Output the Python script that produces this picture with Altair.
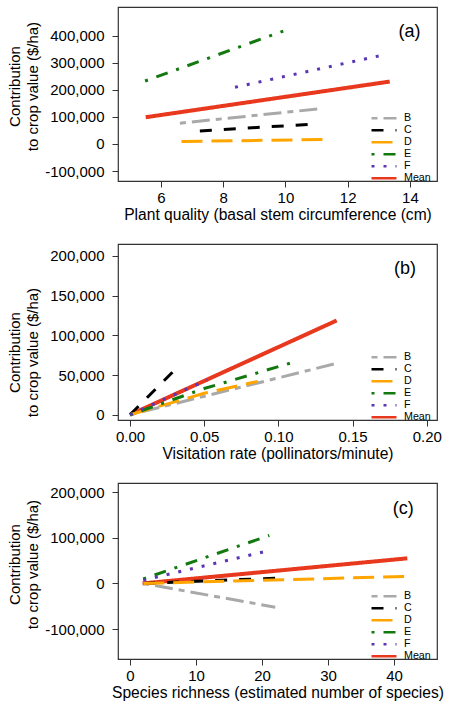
import altair as alt
import pandas as pd

FONT = "Liberation Sans"

SERIES = ["B", "C", "D", "E", "F", "Mean"]
COLORS = ["#a9a9a9", "#000000", "#ffa500", "#12790f", "#5b36b4", "#e8381d"]
DASH_LINE = [[6, 6, 18, 6], [12, 12], [21, 9], [3, 9, 12, 9], [3, 9], [1, 0]]

# ---------- panel (a): plant quality ----------
A_X = {
    "B": [6.61, 11.16], "C": [7.25, 10.80], "D": [6.66, 11.30],
    "E": [5.49, 9.93], "F": [8.38, 13.25], "Mean": [5.51, 13.35],
}
A_Y = {
    "B": [77000, 131000], "C": [48000, 73000], "D": [9000, 17000],
    "E": [233000, 418000], "F": [210000, 332000], "Mean": [99000, 231000],
}
A_XDOM = [4.62, 14.87]
A_YDOM = [-137000, 507000]
A_XTICKS = [6, 8, 10, 12, 14]
A_YTICKS = [-100000, 0, 100000, 200000, 300000, 400000]
A_XTITLE = "Plant quality (basal stem circumference (cm)"

# ---------- panel (b): visitation rate ----------
B_X = {
    "B": [0, 0.139], "C": [0, 0.031], "D": [0, 0.05, 0.086],
    "E": [0, 0.05, 0.108], "F": [0, 0.052], "Mean": [0, 0.1393],
}
B_Y = {
    "B": [0, 64600], "C": [0, 58000], "D": [0, 27000, 42000],
    "E": [0, 33000, 65000], "F": [0, 44000], "Mean": [0, 118700],
}
B_XDOM = [-0.0081, 0.2069]
B_YDOM = [-6600, 215000]
B_XTICKS = [0, 0.05, 0.10, 0.15, 0.20]
B_YTICKS = [0, 50000, 100000, 150000, 200000]
B_XTITLE = "Visitation rate (pollinators/minute)"

# ---------- panel (c): species richness ----------
C_X = {
    "B": [2, 22.0], "C": [2, 22.1], "D": [2, 42],
    "E": [2, 21.1], "F": [2, 21.1], "Mean": [1.9, 42],
}
C_Y = {
    "B": [0, -52000], "C": [0, 11600], "D": [0, 15400],
    "E": [10000, 105000], "F": [7000, 72000], "Mean": [0, 55000],
}
C_XDOM = [-1.82, 46.5]
C_YDOM = [-165500, 220000]
C_XTICKS = [0, 10, 20, 30, 40]
C_YTICKS = [-100000, 0, 100000, 200000]
C_XTITLE = "Species richness (estimated number of species)"

LABELS = ["(a)", "(b)", "(c)"]
LABEL_X = [13.99, 0.1853, 41.4]
LABEL_Y = [415000, 184000, 164000]

Y_TITLE = ["Contribution", "to crop value ($/ha)"]


def to_frame(xs, ys):
    rows = []
    for s in ["Mean"] + SERIES[:-1]:
        for x, y in zip(xs[s], ys[s]):
            rows.append({"series": s, "x": x, "y": y})
    return pd.DataFrame(rows)


def panel(xs, ys, xdom, ydom, xticks, yticks, xfmt, xtitle, h, ty, lab, lx, ly):
    df = to_frame(xs, ys)
    x_enc = alt.X(
        "x:Q",
        scale=alt.Scale(domain=xdom, nice=False, zero=False),
        axis=alt.Axis(
            values=xticks, format=xfmt, title=xtitle, titleY=38,
            titleBaseline="alphabetic", labelPadding=3, labelFlush=False,
            titleFontSize=15.6,
        ),
    )
    y_enc = alt.Y(
        "y:Q",
        scale=alt.Scale(domain=ydom, nice=False, zero=False),
        axis=alt.Axis(
            values=yticks, format=",d",
            labelExpr="replace(datum.label, '\u2212', '-')",
            title=Y_TITLE, titleAngle=270, titleAlign="center",
            titleBaseline="top", titleX=-111, titleY=ty, titleLineHeight=18.5,
            labelPadding=8, titleFontSize=15,
        ),
    )
    legend = alt.Legend(
        title=None, orient="none", legendX=252, legendY=h - 68,
        symbolType="stroke", symbolSize=625, symbolStrokeWidth=2.5,
        clipHeight=10.5, labelFontSize=10.7, labelFont=FONT,
        labelColor="black", labelOffset=6, padding=0, rowPadding=0,
    )
    color = alt.Color(
        "series:N", scale=alt.Scale(domain=SERIES, range=COLORS), legend=legend
    )
    dash = alt.StrokeDash(
        "series:N", scale=alt.Scale(domain=SERIES, range=DASH_LINE), legend=legend
    )
    base = alt.Chart(df).encode(x=x_enc, y=y_enc, color=color, strokeDash=dash)
    mean = base.transform_filter(alt.datum.series == "Mean").mark_line(
        strokeWidth=4, strokeCap="butt"
    )
    others = base.transform_filter(alt.datum.series != "Mean").mark_line(
        strokeWidth=3, strokeCap="butt"
    )
    text = alt.Chart(pd.DataFrame({"x": [lx], "y": [ly], "t": [lab]})).mark_text(
        fontSize=18, font=FONT, color="black", align="center", baseline="middle"
    ).encode(x=x_enc, y=y_enc, text="t:N")
    return alt.layer(mean, others, text).properties(width=319, height=h)


pa = panel(A_X, A_Y, A_XDOM, A_YDOM, A_XTICKS, A_YTICKS, "d", A_XTITLE, 174, 79,
           LABELS[0], LABEL_X[0], LABEL_Y[0])
pb = panel(B_X, B_Y, B_XDOM, B_YDOM, B_XTICKS, B_YTICKS, ".2f", B_XTITLE, 176, 108,
           LABELS[1], LABEL_X[1], LABEL_Y[1])
pc = panel(C_X, C_Y, C_XDOM, C_YDOM, C_XTICKS, C_YTICKS, "d", C_XTITLE, 176, 81,
           LABELS[2], LABEL_X[2], LABEL_Y[2])

chart = (
    alt.vconcat(pa, pb, pc, spacing=63, bounds="flush")
    .resolve_scale(color="independent", strokeDash="independent", x="independent", y="independent")
    .resolve_legend(color="independent", strokeDash="independent")
    .properties(padding={"left": 6, "top": 6, "right": 0, "bottom": 0}, background="white")
    .configure_view(stroke="#333333", strokeWidth=1.2)
    .configure_axis(
        domain=False, grid=False, tickColor="#333333", tickSize=6,
        labelFont=FONT, labelFontSize=15, labelColor="black",
        titleFont=FONT, titleFontSize=15, titleFontWeight="normal", titleColor="black",
    )
)

chart.save("out.html", embed_options={"renderer": "svg", "actions": False})
